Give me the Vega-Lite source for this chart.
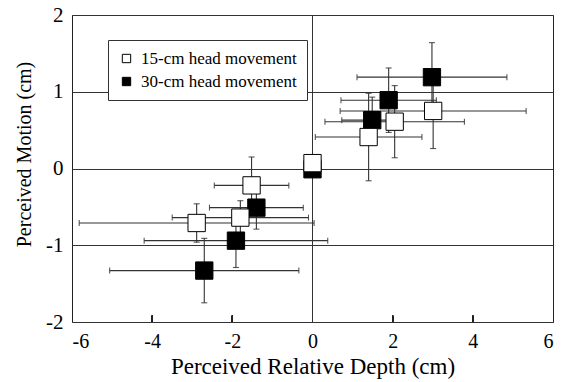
{
  "$schema": "https://vega.github.io/schema/vega-lite/v6.json",
  "width": 481,
  "height": 307,
  "autosize": {"type": "none"},
  "padding": {"left": 72, "top": 15, "right": 13, "bottom": 60},
  "background": "white",
  "config": {
    "view": {"stroke": "#222", "strokeWidth": 1},
    "font": "Liberation Serif",
    "axis": {"domain": false, "labelColor": "black", "titleColor": "black", "labelFont": "Liberation Serif", "titleFont": "Liberation Serif", "titleFontWeight": "normal"}
  },
  "data": {
    "values": [
      {"group": "30-cm head movement", "x": 0.0, "y": -0.01, "xerr": null, "yerr": null},
      {"group": "30-cm head movement", "x": -1.40, "y": -0.51, "xerr": 1.17, "yerr": 0.28},
      {"group": "30-cm head movement", "x": -1.91, "y": -0.94, "xerr": 2.29, "yerr": 0.35},
      {"group": "30-cm head movement", "x": -2.70, "y": -1.33, "xerr": 2.36, "yerr": 0.42},
      {"group": "30-cm head movement", "x": 1.49, "y": 0.63, "xerr": 0.76, "yerr": 0.30},
      {"group": "30-cm head movement", "x": 1.90, "y": 0.89, "xerr": 1.19, "yerr": 0.42},
      {"group": "30-cm head movement", "x": 2.98, "y": 1.19, "xerr": 1.87, "yerr": 0.45},
      {"group": "15-cm head movement", "x": 0.0, "y": 0.07, "xerr": null, "yerr": null},
      {"group": "15-cm head movement", "x": -1.52, "y": -0.22, "xerr": 0.93, "yerr": 0.37},
      {"group": "15-cm head movement", "x": -2.89, "y": -0.71, "xerr": 2.93, "yerr": 0.25},
      {"group": "15-cm head movement", "x": -1.80, "y": -0.64, "xerr": 1.70, "yerr": 0.22},
      {"group": "15-cm head movement", "x": 1.40, "y": 0.41, "xerr": 1.33, "yerr": 0.57},
      {"group": "15-cm head movement", "x": 2.05, "y": 0.61, "xerr": 1.74, "yerr": 0.47},
      {"group": "15-cm head movement", "x": 3.01, "y": 0.75, "xerr": 2.32, "yerr": 0.49}
    ]
  },
  "layer": [
    {
      "mark": {"type": "rule", "color": "#333", "strokeWidth": 1},
      "encoding": {"x": {"datum": 0, "type": "quantitative", "title": "Perceived Relative Depth (cm)"}}
    },
    {"mark": {"type": "rule", "color": "#222", "strokeWidth": 1.2}, "encoding": {"x": {"datum": -4, "type": "quantitative", "title": "Perceived Relative Depth (cm)"}, "y": {"datum": -2, "type": "quantitative", "title": "Perceived Motion (cm)"}, "y2": {"datum": -1.92}}},
    {"mark": {"type": "rule", "color": "#222", "strokeWidth": 1.2}, "encoding": {"x": {"datum": -2, "type": "quantitative", "title": "Perceived Relative Depth (cm)"}, "y": {"datum": -2, "type": "quantitative", "title": "Perceived Motion (cm)"}, "y2": {"datum": -1.92}}},
    {"mark": {"type": "rule", "color": "#222", "strokeWidth": 1.2}, "encoding": {"x": {"datum": 2, "type": "quantitative", "title": "Perceived Relative Depth (cm)"}, "y": {"datum": -2, "type": "quantitative", "title": "Perceived Motion (cm)"}, "y2": {"datum": -1.92}}},
    {"mark": {"type": "rule", "color": "#222", "strokeWidth": 1.2}, "encoding": {"x": {"datum": 4, "type": "quantitative", "title": "Perceived Relative Depth (cm)"}, "y": {"datum": -2, "type": "quantitative", "title": "Perceived Motion (cm)"}, "y2": {"datum": -1.92}}},
    {
      "transform": [{"filter": "datum.xerr != null"}],
      "mark": {"type": "errorbar", "color": "#333", "thickness": 1.1, "ticks": {"size": 6, "color": "#111"}},
      "encoding": {
        "x": {"field": "x", "type": "quantitative", "title": "Perceived Relative Depth (cm)"},
        "xError": {"field": "xerr"},
        "y": {"field": "y", "type": "quantitative", "title": "Perceived Motion (cm)"}
      }
    },
    {
      "transform": [{"filter": "datum.yerr != null"}],
      "mark": {"type": "errorbar", "color": "#333", "thickness": 1.1, "ticks": {"size": 6, "color": "#111"}},
      "encoding": {
        "y": {"field": "y", "type": "quantitative", "title": "Perceived Motion (cm)"},
        "yError": {"field": "yerr"},
        "x": {"field": "x", "type": "quantitative", "title": "Perceived Relative Depth (cm)"}
      }
    },
    {
      "mark": {"type": "point", "shape": "square", "filled": true, "size": 300, "stroke": "black", "strokeWidth": 1, "opacity": 1},
      "encoding": {
        "x": {
          "field": "x", "type": "quantitative", "title": "Perceived Relative Depth (cm)",
          "scale": {"domain": [-6, 6], "nice": false, "zero": false},
          "axis": {"values": [-6, -4, -2, 0, 2, 4, 6], "labelExpr": "datum.value + ''", "grid": false, "ticks": false, "labelPadding": 9, "labelFontSize": 20, "titleFontSize": 23, "titleX": 240.5, "titleY": 51, "titleBaseline": "alphabetic", "titleAlign": "center"}
        },
        "y": {
          "field": "y", "type": "quantitative", "title": "Perceived Motion (cm)",
          "scale": {"domain": [-2, 2], "nice": false, "zero": false},
          "axis": {"values": [-2, -1, 0, 1, 2], "labelExpr": "datum.value + ''", "grid": true, "gridColor": "#333", "gridOpacity": 1, "ticks": false, "labelPadding": 9, "labelFontSize": 21, "titleFontSize": 20, "titleAngle": 270, "titleX": -48, "titleY": 139, "titleBaseline": "middle", "titleAlign": "center"}
        },
        "fill": {
          "field": "group", "type": "nominal",
          "scale": {"domain": ["15-cm head movement", "30-cm head movement"], "range": ["white", "black"]},
          "legend": {"orient": "none", "legendX": 36, "legendY": 25, "title": null, "strokeColor": "#333", "fillColor": "white", "padding": 10, "labelFontSize": 17, "labelFont": "Liberation Serif", "labelColor": "black", "labelLimit": 400, "symbolType": "square", "symbolSize": 70, "symbolStrokeColor": "black", "symbolStrokeWidth": 1, "rowPadding": 5, "labelOffset": 6}
        }
      }
    }
  ]
}
